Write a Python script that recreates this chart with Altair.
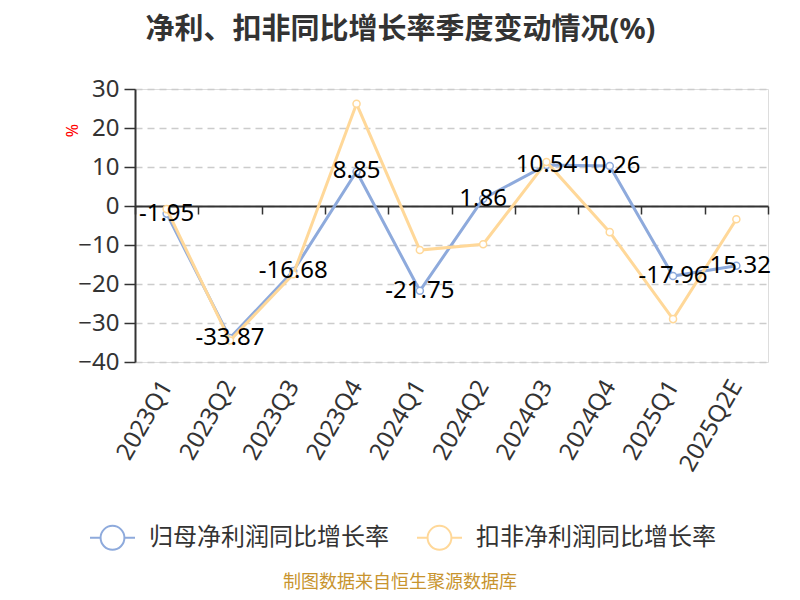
import altair as alt
import pandas as pd

quarters = ["2023Q1", "2023Q2", "2023Q3", "2023Q4", "2024Q1", "2024Q2",
            "2024Q3", "2024Q4", "2025Q1", "2025Q2E"]
net_profit = [-1.95, -33.87, -16.68, 8.85, -21.75, 1.86, 10.54, 10.26, -17.96, -15.32]
net_profit_labels = ["-1.95", "-33.87", "-16.68", "8.85", "-21.75", "1.86",
                     "10.54", "10.26", "-17.96", "-15.32"]
deducted = [-0.8, -34.5, -17.5, 26.2, -11.3, -9.8, 11.3, -6.7, -29.0, -3.4]
series_names = ["归母净利润同比增长率", "扣非净利润同比增长率"]
series_colors = ["#8eaadc", "#ffd899"]
title_text = "净利、扣非同比增长率季度变动情况(%)"
footer_text = ["制图数据来自恒生聚源数据库"]

FONT = "Noto Sans, Noto Sans CJK SC"

rows = []
for q, v, lab in zip(quarters, net_profit, net_profit_labels):
    rows.append({"quarter": q, "value": v, "series": series_names[0], "label": lab})
for q, v in zip(quarters, deducted):
    rows.append({"quarter": q, "value": v, "series": series_names[1], "label": ""})
df = pd.DataFrame(rows)

W, H = 633, 273

x_enc = alt.X("quarter:N", sort=quarters, title=None,
              scale=alt.Scale(paddingInner=0, paddingOuter=0),
              axis=alt.Axis(offset=-156, labelAngle=-60, labelFontSize=24,
                            labelColor="#333333", labelFont=FONT,
                            labelPadding=168, tickBand="extent", tickSize=8,
                            tickColor="#333333", tickWidth=1.5,
                            domainColor="#333333", domainWidth=2, grid=False,
                            labelAlign="right", labelBaseline="middle"))
y_enc = alt.Y("value:Q", title="%",
              scale=alt.Scale(domain=[-40, 30], nice=False, zero=False),
              axis=alt.Axis(values=[-40, -30, -20, -10, 0, 10, 20, 30],
                            labelFontSize=24, labelColor="#333333", labelFont=FONT,
                            labelPadding=5, tickSize=11, tickColor="#333333",
                            tickWidth=1.5, domainColor="#333333", domainWidth=2,
                            grid=True, gridDash=[7, 5], gridColor="#cccccc",
                            gridWidth=1.5, titleColor="red", titleFontSize=16,
                            titleFontWeight="normal", titleFont=FONT,
                            titleX=-63, titleY=41, titleAngle=270,
                            titleAlign="center", titleBaseline="middle"))

legend_path = ("M-1,0 H-0.53 M0.53,0 H1 M0.53,0 A0.53,0.53 0 1,1 -0.53,0 "
               "A0.53,0.53 0 1,1 0.53,0")
color_enc = alt.Color("series:N",
                      scale=alt.Scale(domain=series_names, range=series_colors),
                      legend=alt.Legend(title=None, orient="none", legendX=-46,
                                        legendY=425, direction="horizontal",
                                        labelFontSize=24, labelColor="#333333",
                                        labelFont=FONT, labelLimit=0,
                                        symbolType=legend_path,
                                        symbolSize=2025, symbolStrokeWidth=2,
                                        columnPadding=24, labelOffset=13))

base = alt.Chart(df)
stroke_enc = alt.Stroke("series:N", scale=alt.Scale(domain=series_names,
                                                    range=series_colors), legend=None)

line_blue = base.transform_filter(alt.datum.series == series_names[0]).mark_line(
    strokeWidth=3).encode(x=x_enc, y=y_enc, color=color_enc)
line_yellow = base.transform_filter(alt.datum.series == series_names[1]).mark_line(
    strokeWidth=3).encode(x=x_enc, y=y_enc, color=color_enc)
pts_blue = base.transform_filter(alt.datum.series == series_names[0]).mark_point(
    filled=False, fill="white", size=50, strokeWidth=1.5, opacity=1).encode(
    x=x_enc, y=y_enc, stroke=stroke_enc)
pts_yellow = base.transform_filter(alt.datum.series == series_names[1]).mark_point(
    filled=False, fill="white", size=50, strokeWidth=1.5, opacity=1).encode(
    x=x_enc, y=y_enc, stroke=stroke_enc)
labels = base.transform_filter(alt.datum.series == series_names[0]).mark_text(
    fontSize=24, color="#000000", align="center", baseline="middle", font=FONT
).encode(x=x_enc, y=y_enc, text="label:N")

footer = alt.Chart(pd.DataFrame({"t": footer_text})).mark_text(
    fontSize=18, color="#c8942e", font=FONT, align="center", baseline="middle"
).encode(x=alt.value(265), y=alt.value(494), text="t:N")

chart = alt.layer(line_blue, pts_blue, line_yellow, pts_yellow, labels, footer).properties(
    width=W, height=H,
    title=alt.TitleParams(title_text, fontSize=29, fontWeight="bold",
                          color="#333333", font=FONT, anchor="middle",
                          dx=-51, offset=32),
    autosize=alt.AutoSizeParams(type="none"),
    padding={"left": 127, "top": 81, "right": 24, "bottom": 230},
).configure_view(stroke=None).configure(background="white")

chart.save("out.html", embed_options={"renderer": "svg", "actions": False})
